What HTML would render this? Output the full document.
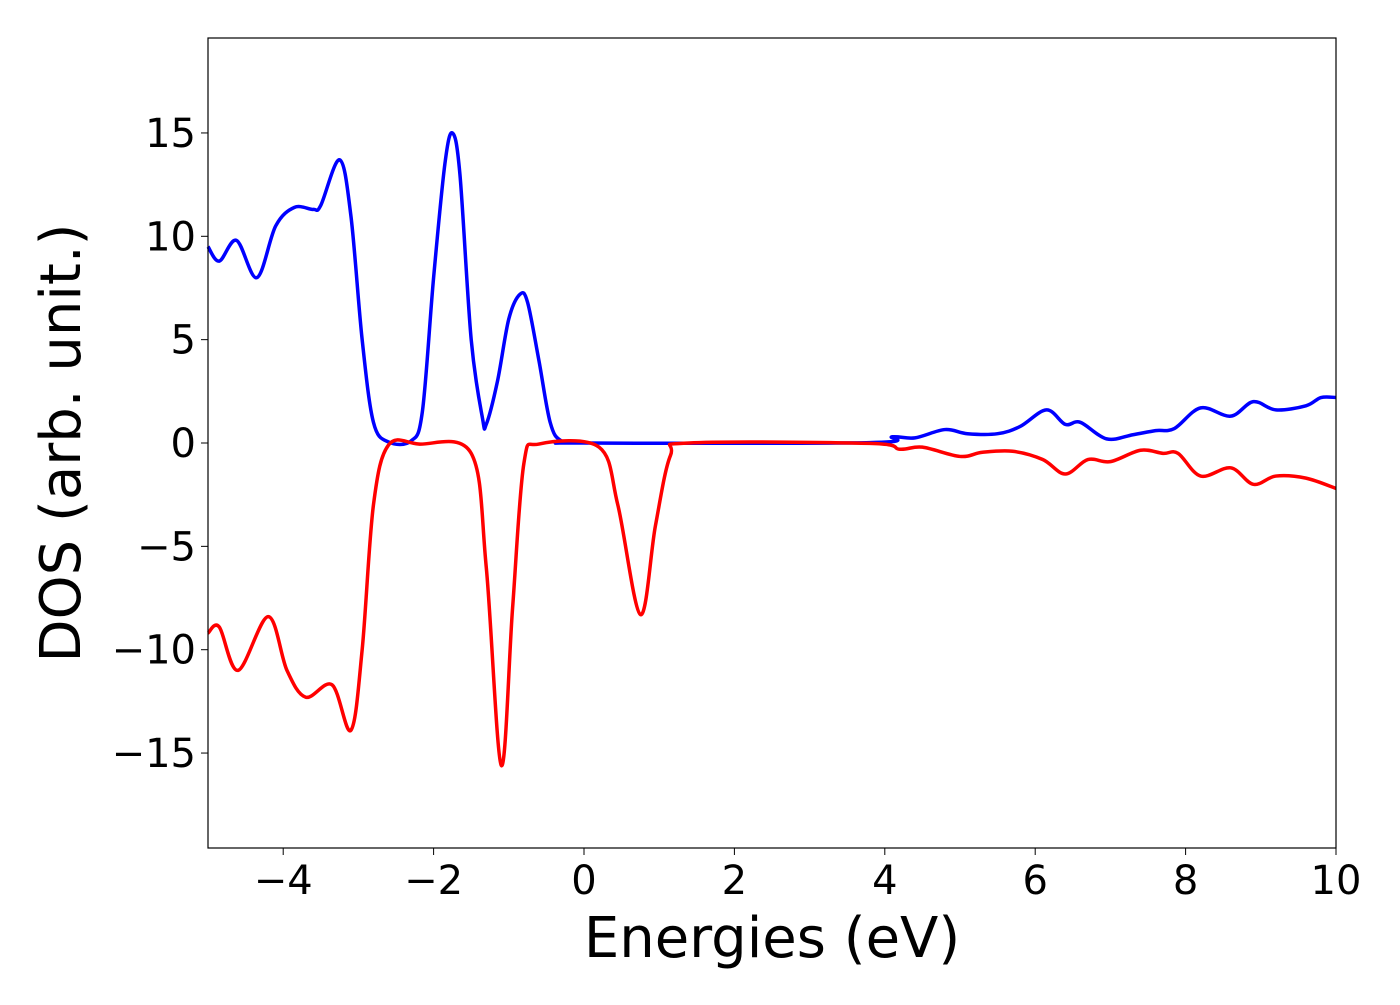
<!DOCTYPE html>
<html><head><meta charset="utf-8"><style>
body{margin:0;background:#fff}
svg text{font-family:"DejaVu Sans","Liberation Sans",sans-serif;fill:#000}
</style></head><body>
<svg width="1400" height="1000">
<g id="ticks"></g>
<path id="blue" fill="none" stroke="#0000ff" stroke-width="3.5"/>
<path id="red" fill="none" stroke="#ff0000" stroke-width="3.5"/>
<rect x="208" y="38" width="1128" height="810" fill="none" stroke="#000" stroke-width="1.2"/>
<text x="772" y="957" font-size="56" text-anchor="middle">Energies (eV)</text>
<text transform="translate(80,443) rotate(-90)" font-size="56" text-anchor="middle">DOS (arb. unit.)</text>
</svg>
<script>
const blueE=[-5,-4.85,-4.62,-4.35,-4.1,-3.85,-3.6,-3.5,-3.25,-3.1,-2.95,-2.8,-2.6,-2.3,-2.15,-2.0,-1.85,-1.75,-1.65,-1.5,-1.35,-1.3,-1.15,-1.0,-0.85,-0.75,-0.6,-0.45,-0.3,0,3.8,4.1,4.4,4.8,5.1,5.5,5.8,6.15,6.4,6.6,6.95,7.3,7.6,7.85,8.2,8.6,8.9,9.2,9.6,9.8,10];
const blueD=[9.5,8.8,9.8,8.0,10.5,11.4,11.3,11.5,13.7,11,5,1,0.05,0.1,1.5,8,13.5,15,13,5,1.2,0.9,3,6,7.2,6.8,4,1,0.1,0,0.02,0.3,0.25,0.65,0.45,0.45,0.8,1.6,0.9,1.0,0.2,0.4,0.6,0.7,1.7,1.3,2.0,1.6,1.8,2.2,2.2];
const redE=[-5,-4.85,-4.6,-4.2,-3.95,-3.7,-3.35,-3.1,-2.95,-2.8,-2.6,-2.2,-1.5,-1.3,-1.1,-0.95,-0.8,-0.6,0.2,0.45,0.75,0.95,1.15,1.4,3.8,4.2,4.5,5.0,5.3,5.7,6.1,6.4,6.7,7.0,7.4,7.7,7.9,8.2,8.6,8.9,9.2,9.6,10];
const redD=[-9.2,-8.9,-11.0,-8.4,-11.0,-12.3,-11.7,-13.9,-10,-3,-0.1,-0.05,-0.5,-6,-15.6,-8,-1,-0.05,-0.2,-3,-8.3,-4,-0.6,0,-0.02,-0.3,-0.2,-0.65,-0.45,-0.4,-0.8,-1.5,-0.8,-0.9,-0.35,-0.5,-0.5,-1.6,-1.2,-2.0,-1.6,-1.7,-2.2];
const xTicks=[-4,-2,0,2,4,6,8,10];
const yTicks=[-15,-10,-5,0,5,10,15];
const X=e=>208+(e+5)*1128/15;
const Y=v=>443-v*20.67;
function path(E,D){
  const p=E.map((e,i)=>[X(e),Y(D[i])]);
  let d=`M${p[0][0]},${p[0][1]}`;
  for(let i=0;i<p.length-1;i++){
    const a=p[i-1]||p[i],b=p[i],c=p[i+1],n=p[i+2]||c;
    d+=`C${b[0]+(c[0]-a[0])/6},${b[1]+(c[1]-a[1])/6} ${c[0]-(n[0]-b[0])/6},${c[1]-(n[1]-b[1])/6} ${c[0]},${c[1]}`;
  }
  return d;
}
document.getElementById('blue').setAttribute('d',path(blueE,blueD));
document.getElementById('red').setAttribute('d',path(redE,redD));
const g=document.getElementById('ticks');
const ns='http://www.w3.org/2000/svg';
const fmt=v=>v<0?'\u2212'+Math.abs(v):String(v);
xTicks.forEach(t=>{
  const l=document.createElementNS(ns,'line');
  
  
  l.setAttribute('x1',X(t));l.setAttribute('x2',X(t));l.setAttribute('y1',848);l.setAttribute('y2',855);l.setAttribute('stroke','#000');
  g.appendChild(l);
  const tx=document.createElementNS(ns,'text');
  
  
  tx.setAttribute('x',X(t));tx.setAttribute('y',894);tx.setAttribute('font-size','40');tx.setAttribute('text-anchor','middle');
  tx.textContent=fmt(t);g.appendChild(tx);
});
yTicks.forEach(t=>{
  const l=document.createElementNS(ns,'line');
  
  
  l.setAttribute('x1',201);l.setAttribute('x2',208);l.setAttribute('y1',Y(t));l.setAttribute('y2',Y(t));l.setAttribute('stroke','#000');
  g.appendChild(l);
  const tx=document.createElementNS(ns,'text');
  
  
  tx.setAttribute('x',196);tx.setAttribute('y',Y(t)+14);tx.setAttribute('font-size','40');tx.setAttribute('text-anchor','end');
  tx.textContent=fmt(t);g.appendChild(tx);
});
</script>
</body></html>
